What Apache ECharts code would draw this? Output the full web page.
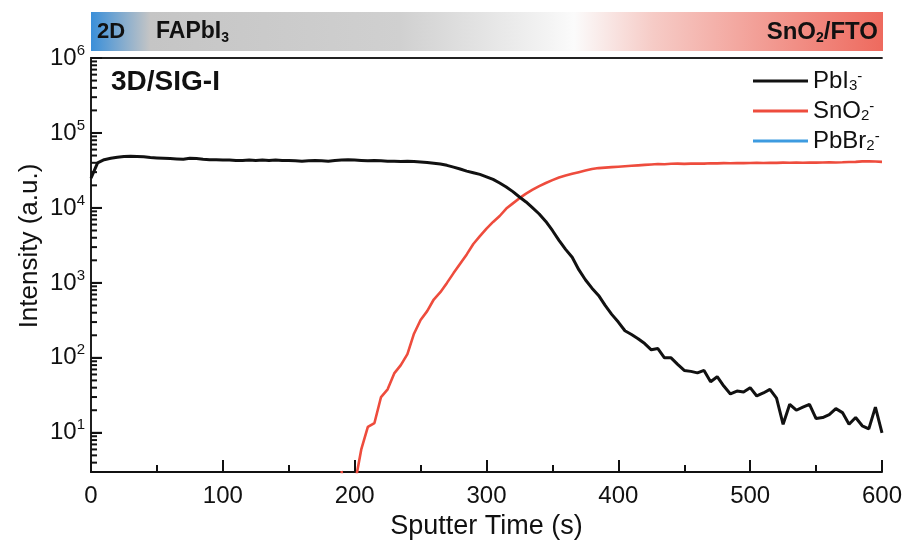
<!DOCTYPE html>
<html><head><meta charset="utf-8">
<script src="https://cdn.jsdelivr.net/npm/echarts@6/dist/echarts.min.js"></script>
<style>html,body{margin:0;padding:0;background:#fff}#c{width:907px;height:546px}</style>
</head><body><div id="c"></div>
<script>
const FONT = '"Liberation Sans", Arial, Helvetica, sans-serif';

// Sputter time (s)
const time = [0,5,10,15,20,25,30,35,40,45,50,55,60,65,70,75,80,85,90,95,
  100,105,110,115,120,125,130,135,140,145,150,155,160,165,170,175,180,185,190,195,
  200,205,210,215,220,225,230,235,240,245,250,255,260,265,270,275,280,285,290,295,
  300,305,310,315,320,325,330,335,340,345,350,355,360,365,370,375,380,385,390,395,
  400,405,410,415,420,425,430,435,440,445,450,455,460,465,470,475,480,485,490,495,
  500,505,510,515,520,525,530,535,540,545,550,555,560,565,570,575,580,585,590,595,600];

// PbI3- intensity
const pbi3 = [25000,40000,44000,46000,47500,48500,49000,48500,48000,47000,46500,46000,45500,45000,44500,46000,45500,44500,44000,44000,
  43500,43500,43000,43000,43500,43000,43500,43000,43500,43000,43000,42500,42000,42500,43000,42500,42000,43000,43500,44000,
  43500,43000,42500,43000,42500,42000,42000,41500,42000,41500,41000,40500,39500,38500,37000,35000,33000,31000,29500,28000,
  26000,24000,21500,19000,16500,14000,12000,10000,8300,6600,5000,3700,2800,2200,1500,1100,850,680,500,380,
  300,230,205,180,155,128,133,100,100,82,68,66,63,68,48,56,42,33,36,35,
  40,31,34,38,29,13,24,20,22,24,15.5,16,17.5,21,18.6,13,16,12.4,11.3,22,10];

// SnO2- intensity (null: not measured above detection floor)
const sno2 = [null,null,null,null,null,null,null,null,null,null,null,null,null,null,null,null,null,null,null,null,
  null,null,null,null,null,null,null,null,null,null,null,null,null,null,null,null,null,null,3.1,1,
  2,6,12,13.5,30,38,62,80,112,210,320,420,600,750,1000,1350,1800,2400,3300,4200,
  5300,6500,7800,9800,11500,13500,15500,17500,19500,21500,23500,25500,27000,28500,30000,31500,33000,34000,34500,35000,
  35500,36000,36500,37000,37500,38000,38500,38300,38800,39000,38700,39000,39200,39000,39500,39300,39600,39400,39800,39600,
  39800,40000,39700,40100,39900,40200,40000,40300,40100,40400,40200,40300,40500,40400,40600,40900,41200,41800,42000,41600,41200];

// PbBr2- : entirely below the axis floor, nothing visible
const pbbr2 = [];

const yMajor = [10,100,1000,10000,100000,1000000];
const yMinor = [4,5,6,7,8,9,20,30,40,50,60,70,80,90,200,300,400,500,600,700,800,900,
  2000,3000,4000,5000,6000,7000,8000,9000,20000,30000,40000,50000,60000,70000,80000,90000,
  200000,300000,400000,500000,600000,700000,800000,900000];

const seriesNames = ['PbI3-','SnO2-','PbBr2-'];
const legendRich = {'PbI3-':'PbI{sub|3}{sup|-}','SnO2-':'SnO{sub|2}{sup|-}','PbBr2-':'PbBr{sub|2}{sup|-}'};

const chart = echarts.init(document.getElementById('c'));
const pair = arr => time.map((t,i)=>[t, arr[i]]);

const axisColor = '#111';
const MAJOR_LEN = 11, MINOR_LEN = 6;
const tickData = yMajor.map(v=>[0, v, MAJOR_LEN]).concat(yMinor.map(v=>[0, v, MINOR_LEN]));

chart.setOption({
  animation:false,
  backgroundColor:'#fff',
  grid:{left:91, right:25, top:58, bottom:74},
  xAxis:[{type:'value', min:0, max:600, interval:100,
    axisLine:{lineStyle:{color:axisColor, width:2}},
    axisTick:{inside:true, length:12, lineStyle:{color:axisColor, width:2}},
    minorTick:{show:true, splitNumber:2, length:7, lineStyle:{color:axisColor, width:2}},
    splitLine:{show:false},
    axisLabel:{fontSize:24, color:'#111', margin:12, fontFamily:FONT},
    name:'Sputter Time (s)', nameLocation:'middle', nameGap:39,
    nameTextStyle:{fontSize:27, color:'#111', fontFamily:FONT}
  },{type:'value', position:'top', min:0, max:600, interval:100,
    axisLine:{show:true, lineStyle:{color:'#222', width:1.8}},
    axisTick:{show:false}, axisLabel:{show:false}, splitLine:{show:false}
  }],
  yAxis:[{type:'log', logBase:10, min:3, max:1000000,
    axisLine:{show:true, lineStyle:{color:axisColor, width:2}},
    axisTick:{show:true, inside:true, length:11, lineStyle:{color:axisColor, width:2}},
    splitLine:{show:false},
    axisLabel:{customValues:yMajor, margin:6, color:'#111', fontSize:24, fontFamily:FONT, lineHeight:30,
      formatter:v=>'10{sup|'+Math.round(Math.log10(v))+'}',
      rich:{sup:{fontSize:15, fontFamily:FONT, color:'#111', verticalAlign:'top', lineHeight:12}}}
  },{type:'log', logBase:10, min:3, max:1000000, position:'right',
    axisLine:{show:true, lineStyle:{color:'#222', width:1.8}},
    axisTick:{show:false}, axisLabel:{show:false}, splitLine:{show:false}
  }],
  legend:{orient:'vertical', left:748, top:64, itemWidth:55, itemHeight:3, itemGap:6, icon:'rect',
    data:seriesNames,
    formatter:n=>legendRich[n],
    textStyle:{fontSize:24, color:'#111', fontFamily:FONT, lineHeight:24,
      rich:{sub:{fontSize:15, fontFamily:FONT, color:'#111', verticalAlign:'bottom', lineHeight:12},
            sup:{fontSize:15, fontFamily:FONT, color:'#111', verticalAlign:'top', lineHeight:12}}}
  },
  series:[
    {name:'PbI3-', type:'line', data:pair(pbi3), showSymbol:false, symbol:'none', lineStyle:{color:'#111', width:3}, itemStyle:{color:'#111'}, clip:true, z:3},
    {name:'SnO2-', type:'line', data:pair(sno2), showSymbol:false, symbol:'none', lineStyle:{color:'#ee4c3d', width:2.6}, itemStyle:{color:'#ee4c3d'}, clip:true, z:2},
    {name:'PbBr2-', type:'line', data:pbbr2, showSymbol:false, symbol:'none', lineStyle:{color:'#3d9be0', width:2.6}, itemStyle:{color:'#3d9be0'}, clip:true, z:1},
    {name:'yTicks', type:'custom', data:tickData, clip:false, z:10,
      renderItem:(params, api)=>{
        const p = api.coord([api.value(0), api.value(1)]);
        return {type:'rect', shape:{x:p[0], y:p[1]-1, width:api.value(2), height:2},
          style:{fill:axisColor}};
      }}
  ],
  graphic:[
    {type:'rect', shape:{x:91, y:12, width:792, height:39}, silent:true,
      style:{fill:new echarts.graphic.LinearGradient(0,0,1,0,[
        {offset:0, color:'#3a8fd9'},{offset:0.075, color:'#c5c5c5'},{offset:0.39, color:'#d0d0d0'},
        {offset:0.57, color:'#f2f2f2'},{offset:0.61, color:'#fbfbfb'},{offset:0.71, color:'#f6cbc6'},{offset:1, color:'#ee6a5e'}])}},
    {type:'text', x:97, y:32, silent:true, style:{text:'2D', font:'bold 22px '+FONT, fill:'#111', verticalAlign:'middle'}},
    {type:'text', x:156, y:32, silent:true, style:{text:'FAPbI{sub|3}', font:'bold 23px '+FONT, fill:'#111', verticalAlign:'middle', lineHeight:26,
      rich:{sub:{fontSize:14, fontWeight:'bold', fontFamily:FONT, fill:'#111', verticalAlign:'bottom', lineHeight:10}}}},
    {type:'text', x:878, y:32, silent:true, style:{text:'SnO{sub|2}/FTO', font:'bold 24px '+FONT, fill:'#111', align:'right', verticalAlign:'middle', lineHeight:26,
      rich:{sub:{fontSize:14, fontWeight:'bold', fontFamily:FONT, fill:'#111', verticalAlign:'bottom', lineHeight:10}}}},
    {type:'text', x:111, y:82, silent:true, style:{text:'3D/SIG-I', font:'bold 28px '+FONT, fill:'#111', verticalAlign:'middle'}},
    {type:'text', x:30, y:246, rotation:Math.PI/2, silent:true, style:{text:'Intensity (a.u.)', font:'26px '+FONT, fill:'#111', align:'center', verticalAlign:'middle'}}
  ]
});
</script></body></html>
